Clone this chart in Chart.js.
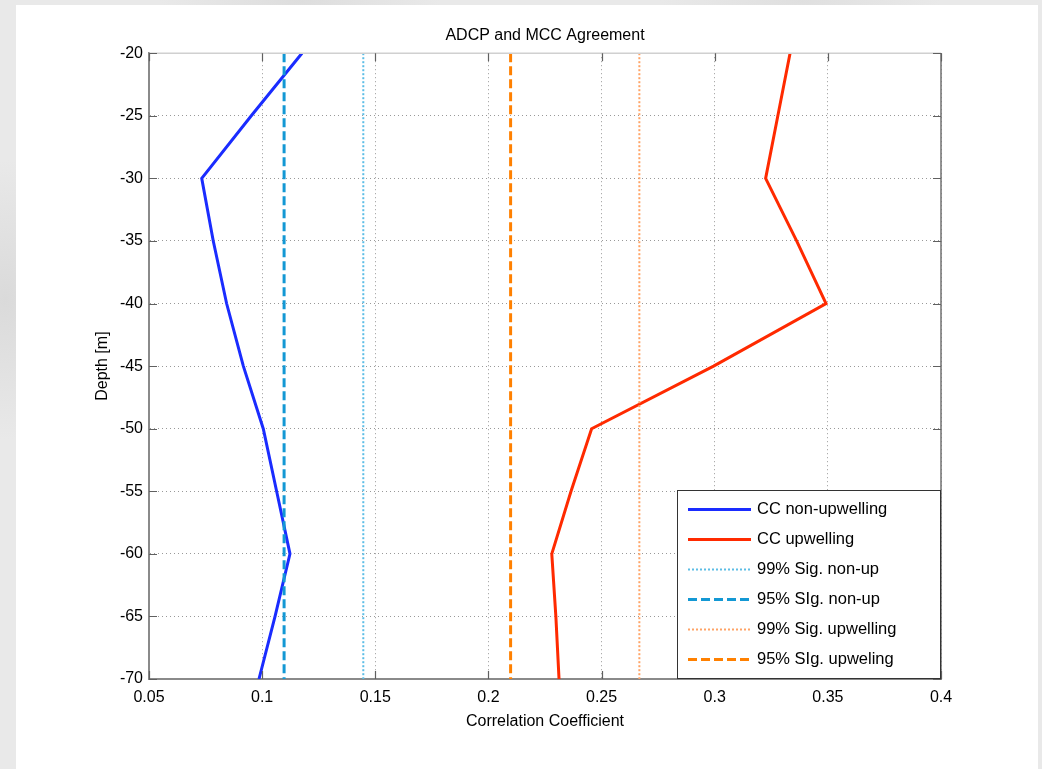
<!DOCTYPE html>
<html>
<head>
<meta charset="utf-8">
<title>ADCP and MCC Agreement</title>
<script src="https://cdn.jsdelivr.net/npm/chart.js@4.4.1/dist/chart.umd.min.js"></script>
<style>
  html, body { margin: 0; padding: 0; }
  body {
    width: 1042px; height: 769px; overflow: hidden; position: relative;
    background:
      radial-gradient(ellipse 120px 200px at 5px 300px, #dadada, rgba(218,218,218,0) 70%),
      radial-gradient(ellipse 200px 60px at 300px 0px, #dddddd, rgba(221,221,221,0) 70%),
      radial-gradient(ellipse 200px 60px at 800px 0px, #dfdfdf, rgba(223,223,223,0) 70%),
      #e9e9e9;
  }
  #fig {
    position: absolute; left: 16px; top: 5px;
    width: 1022px; height: 764px; background: #fff;
  }
  canvas { display: block; }
</style>
</head>
<body>
<div id="fig"><canvas id="chart" width="1022" height="764"></canvas></div>
<script>
'use strict';

// ── Data ──────────────────────────────────────
const DEPTHS    = [-20, -25, -30, -35, -40, -45, -50, -55, -60, -65, -70];
const CC_NON_UP = [0.1176, 0.0952, 0.0733, 0.0784, 0.0843, 0.0917, 0.1005, 0.1064, 0.1123, 0.1057, 0.0986];
const CC_UP     = [0.3333, 0.3279, 0.3225, 0.3362, 0.3492, 0.2995, 0.2456, 0.2365, 0.2280, 0.2298, 0.2312];

// significance thresholds (vertical reference lines)
const SIG99_NON_UP = 0.1447;
const SIG95_NON_UP = 0.1097;
const SIG99_UP     = 0.2667;
const SIG95_UP     = 0.2098;

const X_TICKS = [0.05, 0.1, 0.15, 0.2, 0.25, 0.3, 0.35, 0.4];
const Y_TICKS = [-70, -65, -60, -55, -50, -45, -40, -35, -30, -25, -20];

const FONT = '"Liberation Sans", Arial, Helvetica, sans-serif';

// ── helpers ───────────────────────────────────
const profile = vals => vals.map((v, i) => ({ x: v, y: DEPTHS[i] }));
const vline   = x => [{ x, y: Y_TICKS[Y_TICKS.length - 1] }, { x, y: Y_TICKS[0] }];

function lineSet(label, data, color, width, dash, order) {
  return {
    label, data, order,
    borderColor: color,
    backgroundColor: color,
    borderWidth: width,
    borderDash: dash,
    borderJoinStyle: 'miter',
    pointRadius: 0,
    pointHoverRadius: 0,
    showLine: true,
    tension: 0,
    fill: false
  };
}

// ── box, inner ticks and legend (MATLAB look) ──
const matlabFrame = {
  id: 'matlabFrame',
  afterDatasetsDraw(chart) {
    const { ctx, chartArea: a, scales } = chart;
    ctx.save();
    ctx.setLineDash([]);

    // top and right edges of the axes box
    ctx.lineWidth = 1.5;
    ctx.strokeStyle = '#d0d0d0';
    ctx.beginPath(); ctx.moveTo(a.left, a.top); ctx.lineTo(a.right, a.top); ctx.stroke();
    ctx.strokeStyle = '#707070';
    ctx.beginPath(); ctx.moveTo(a.right, a.top); ctx.lineTo(a.right, a.bottom); ctx.stroke();

    // inward ticks on all four sides
    const TL = 8;
    ctx.strokeStyle = '#606060';
    ctx.lineWidth = 1.2;
    ctx.beginPath();
    X_TICKS.forEach(t => {
      const px = Math.round(scales.x.getPixelForValue(t)) + 0.5;
      ctx.moveTo(px, a.bottom); ctx.lineTo(px, a.bottom - TL);
      ctx.moveTo(px, a.top);    ctx.lineTo(px, a.top + TL);
    });
    Y_TICKS.forEach(t => {
      const py = Math.round(scales.y.getPixelForValue(t)) + 0.5;
      ctx.moveTo(a.left, py);  ctx.lineTo(a.left + TL, py);
      ctx.moveTo(a.right, py); ctx.lineTo(a.right - TL, py);
    });
    ctx.stroke();

    // legend box, lower right inside the axes
    const lx = 661, ly = 485, lw = a.right - 1 - lx, lh = 188;
    ctx.fillStyle = '#fff';
    ctx.fillRect(lx, ly, lw, lh);
    ctx.strokeStyle = '#333';
    ctx.lineWidth = 1;
    ctx.strokeRect(lx + 0.5, ly + 0.5, lw, lh);

    ctx.font = '16.5px ' + FONT;
    ctx.textBaseline = 'middle';
    ctx.textAlign = 'left';
    LEGEND_ORDER.forEach((idx, i) => {
      const ds = chart.data.datasets[idx];
      const y = Math.round(ly + 19 + i * 29.9) + 0.5;
      ctx.strokeStyle = ds.borderColor;
      ctx.lineWidth = ds.borderWidth;
      ctx.setLineDash(ds.borderDash || []);
      ctx.beginPath(); ctx.moveTo(672, y); ctx.lineTo(735, y); ctx.stroke();
      ctx.setLineDash([]);
      ctx.fillStyle = '#000';
      ctx.fillText(ds.label, 741, y);
    });
    ctx.restore();
  }
};

const datasets = [
  lineSet('CC non-upwelling',    profile(CC_NON_UP),  '#1a2cff', 3,   [],     6),
  lineSet('CC upwelling',        profile(CC_UP),      '#ff2a00', 3,   [],     5),
  lineSet('99% Sig. non-up',     vline(SIG99_NON_UP), '#5cbde6', 2,   [2, 2], 4),
  lineSet('95% SIg. non-up',     vline(SIG95_NON_UP), '#1398d4', 3,   [9, 4], 3),
  lineSet('99% Sig. upwelling',  vline(SIG99_UP),     '#ffa366', 2,   [2, 2], 2),
  lineSet('95% SIg. upweling',   vline(SIG95_UP),     '#ff8000', 3,   [9, 4], 1)
];
const LEGEND_ORDER = [0, 1, 2, 3, 4, 5];

// ── Build chart ───────────────────────────────
const ctx = document.getElementById('chart').getContext('2d');
new Chart(ctx, {
  type: 'scatter',
  data: { datasets },
  plugins: [matlabFrame],
  options: {
    responsive: false,
    animation: false,
    devicePixelRatio: 1,
    layout: { padding: { left: 0, right: 97, top: 0, bottom: 0 } },
    plugins: {
      legend: { display: false },
      tooltip: { enabled: false },
      title: {
        display: true,
        text: 'ADCP and MCC Agreement',
        fullSize: false,
        color: '#000',
        font: { family: FONT, size: 16, weight: 'normal' },
        padding: { top: 21, bottom: 8 }
      }
    },
    scales: {
      x: {
        type: 'linear',
        min: X_TICKS[0], max: X_TICKS[X_TICKS.length - 1],
        afterBuildTicks: s => { s.ticks = X_TICKS.map(v => ({ value: v })); },
        afterFit: s => { s.height = 90; },
        grid: { color: '#999', lineWidth: 1, drawTicks: false },
        border: { display: true, color: '#8a8a8a', width: 2, dash: [1, 3] },
        ticks: {
          color: '#000', padding: 9, maxRotation: 0,
          font: { family: FONT, size: 16 },
          callback: v => String(+v.toFixed(2))
        },
        title: {
          display: true, text: 'Correlation Coefficient', color: '#000',
          font: { family: FONT, size: 16 },
          padding: { top: 0, bottom: 38 }
        }
      },
      y: {
        type: 'linear',
        min: Y_TICKS[0], max: Y_TICKS[Y_TICKS.length - 1],
        afterBuildTicks: s => { s.ticks = Y_TICKS.map(v => ({ value: v })); },
        afterFit: s => { s.width = 133; },
        grid: { color: '#999', lineWidth: 1, drawTicks: false },
        border: { display: true, color: '#8a8a8a', width: 2, dash: [1, 3] },
        ticks: {
          color: '#000', padding: 6,
          font: { family: FONT, size: 16 },
          callback: v => String(v)
        },
        title: {
          display: true, text: 'Depth [m]', color: '#000',
          font: { family: FONT, size: 16 },
          padding: { top: 77, bottom: 0 }
        }
      }
    }
  }
});
</script>
</body>
</html>
